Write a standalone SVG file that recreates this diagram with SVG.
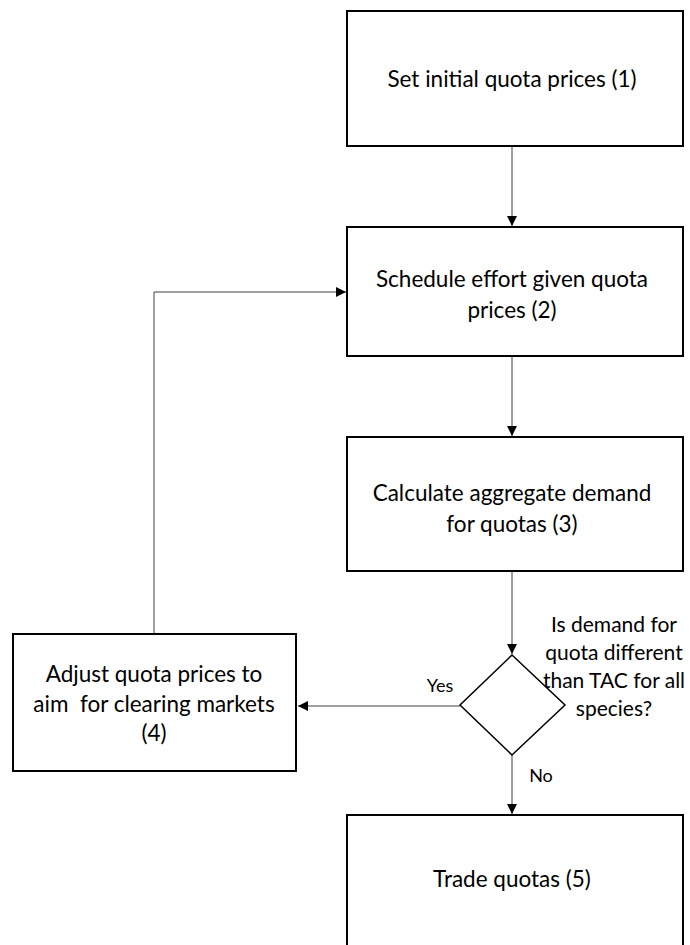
<svg xmlns="http://www.w3.org/2000/svg" width="690" height="945" viewBox="0 0 690 945">
<style>
.box{fill:#fff;stroke:#000;stroke-width:2}
.t{font-family:Lato,"Liberation Sans",sans-serif;font-size:22.5px;fill:#000;text-anchor:middle}
.q{font-family:Lato,"Liberation Sans",sans-serif;font-size:21px;fill:#000;text-anchor:middle}
.s{font-family:Lato,"Liberation Sans",sans-serif;font-size:18px;fill:#000;text-anchor:middle}
.c{fill:none;stroke:#404040;stroke-width:1}
</style>
<defs>
<marker id="ah" viewBox="0 0 10 10" refX="10" refY="5" markerWidth="10" markerHeight="10" markerUnits="userSpaceOnUse" orient="auto">
<path d="M0,0 L10,5 L0,10 Z" fill="#000"/>
</marker>
</defs>
<rect width="690" height="945" fill="#fff"/>
<g id="connectors">
<line class="c" x1="512" y1="146" x2="512" y2="226" marker-end="url(#ah)"/>
<line class="c" x1="512" y1="356" x2="512" y2="436" marker-end="url(#ah)"/>
<line class="c" x1="512" y1="571" x2="512" y2="654" marker-end="url(#ah)"/>
<line class="c" x1="460" y1="706" x2="298" y2="706" marker-end="url(#ah)"/>
<polyline class="c" points="154,634 154,292 346,292" marker-end="url(#ah)"/>
<line class="c" x1="512" y1="755" x2="512" y2="814" marker-end="url(#ah)"/>
<text class="s" x="440" y="692">Yes</text>
<text class="s" x="541" y="782">No</text>
</g>
<g id="n1">
<rect class="box" x="347" y="11" width="336" height="135"/>
<text class="t" x="512" y="87">Set initial quota prices (1)</text>
</g>
<g id="n2">
<rect class="box" x="347" y="227" width="336" height="129"/>
<text class="t" x="512" y="287">Schedule effort given quota</text>
<text class="t" x="512" y="318">prices (2)</text>
</g>
<g id="n3">
<rect class="box" x="347" y="437" width="336" height="134"/>
<text class="t" x="512" y="501">Calculate aggregate demand</text>
<text class="t" x="512" y="532">for quotas (3)</text>
</g>
<g id="n4">
<rect class="box" x="13" y="634" width="283" height="137"/>
<text class="t" x="154" y="682">Adjust quota prices to</text>
<text class="t" x="154" y="712" xml:space="preserve">aim  for clearing markets</text>
<text class="t" x="154" y="741">(4)</text>
</g>
<g id="decision">
<polygon points="512,655 565,705 512,755 460,705" fill="#fff" stroke="#000" stroke-width="1.5"/>
<text class="q" x="614" y="632">Is demand for</text>
<text class="q" x="614" y="660">quota different</text>
<text class="q" x="614" y="688">than TAC for all</text>
<text class="q" x="614" y="716">species?</text>
</g>
<g id="n5">
<rect class="box" x="347" y="815" width="336" height="140"/>
<text class="t" x="512" y="887">Trade quotas (5)</text>
</g>
</svg>
